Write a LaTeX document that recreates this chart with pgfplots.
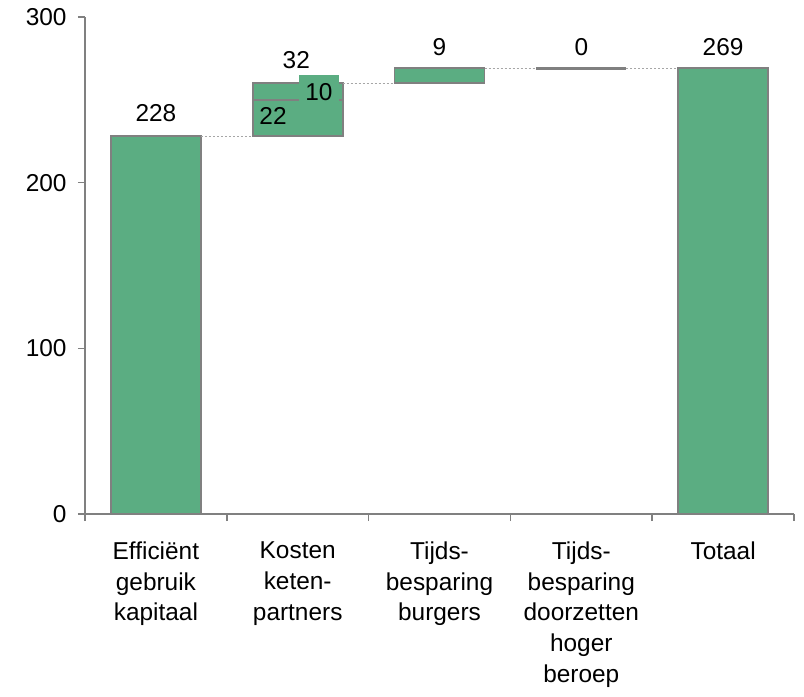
\documentclass[border=0pt]{standalone}
\usepackage{pgfplots}
\pgfplotsset{compat=1.18}
\usepackage{fontspec}
\setmainfont{Liberation Sans}
\definecolor{barg}{RGB}{91,173,130}
\definecolor{axg}{RGB}{128,128,128}
\begin{document}
\begin{tikzpicture}[font=\fontsize{24.5}{31}\selectfont]
\pgfplotsset{common/.style={
  scale only axis, width=709bp, height=497bp,
  xmin=-0.5, xmax=4.5, ymin=0, ymax=300, clip=false}}
\begin{axis}[common,
 axis x line*=bottom, axis y line*=left,
 axis line style={axg, line width=1.5bp},
 ytick={0,100,200,300},
 xtick={-0.5,0.5,...,4.5}, xticklabels={},
 major tick length=7bp,
 tick style={axg, line width=1.5bp},
 tick align=outside,
 yticklabel style={xshift=-8bp},
 /pgf/number format/assume math mode=true,
 extra x ticks={0,1,2,3,4},
 extra x tick labels={Efficiënt\\gebruik\\kapitaal, Kosten\\keten-\\partners, Tijds-\\besparing\\burgers, Tijds-\\besparing\\doorzetten\\hoger\\beroep, Totaal},
 extra x tick style={major tick length=0pt, xticklabel style={align=center, anchor=north, yshift=-24bp}},
 ybar stacked, bar width=0.635,
]
\addplot[draw=none, fill=none] coordinates {(0,0) (1,228) (2,260) (3,269) (4,0)};
\addplot[fill=barg, draw=axg, line width=1.8bp] coordinates {(0,228) (1,22) (2,9) (3,0) (4,269)};
\addplot[fill=barg, draw=axg, line width=1.8bp] coordinates {(0,0) (1,10) (2,0) (3,0) (4,0)};
\coordinate (O) at (rel axis cs:0,0);
\end{axis}
\begin{axis}[common, hide axis]
\addplot[axg!70, dash pattern=on 2bp off 2bp, line width=1.3bp] coordinates {(0.3175,228) (0.6825,228)};
\addplot[axg!70, dash pattern=on 2bp off 2bp, line width=1.3bp] coordinates {(1.3175,260) (1.6825,260)};
\addplot[axg!70, dash pattern=on 2bp off 2bp, line width=1.3bp] coordinates {(2.3175,269) (2.6825,269)};
\addplot[axg!70, dash pattern=on 2bp off 2bp, line width=1.3bp] coordinates {(3.3175,269) (3.6825,269)};
\addplot[axg, line width=3.5bp] coordinates {(2.6825,269) (3.3175,269)};
\node[anchor=south, inner sep=0pt, yshift=14.5bp] at (axis cs:0,228) {228};
\node[anchor=south, inner sep=0pt, yshift=14.5bp] at (axis cs:0.99,260) {32};
\node[inner sep=0pt] at (axis cs:0.826,240.2) {22};
\node[fill=barg, inner xsep=6.5bp, inner ysep=8bp] at (axis cs:1.15,254.7) {10};
\node[anchor=south, inner sep=0pt, yshift=12.5bp] at (axis cs:2.0,269) {9};
\node[anchor=south, inner sep=0pt, yshift=12.5bp] at (axis cs:3.0,269) {0};
\node[anchor=south, inner sep=0pt, yshift=12.5bp] at (axis cs:4,269) {269};
\end{axis}
\path (O) ++(-85bp,-183bp) rectangle ++(804bp,697bp);
\end{tikzpicture}
\end{document}
